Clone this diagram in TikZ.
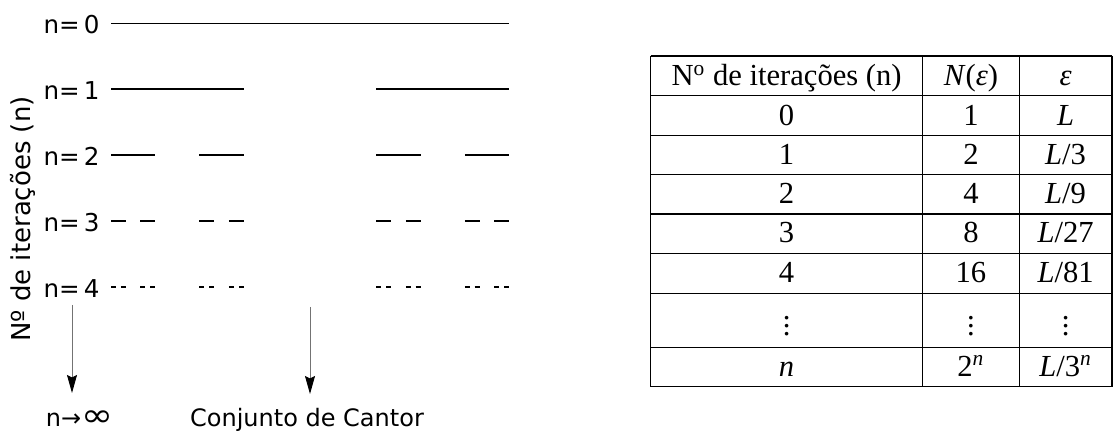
\documentclass[tikz,border=0pt]{standalone}
\usepackage{fontspec}
\usepackage{graphicx}
\setmainfont{Liberation Serif}
\newfontfamily\djv{DejaVu Sans}
\usetikzlibrary{arrows.meta}
\begin{document}
\begin{tikzpicture}[x=0.5pt,y=-0.5pt,
  seg/.style={line width=0.55pt,black},
  lvl/.style={anchor=base east,inner sep=0pt,font=\djv\fontsize{12.3}{14}\selectfont},
  lab/.style={anchor=base,inner sep=0pt,font=\djv\fontsize{12}{14}\selectfont},
  arr/.style={line width=0.5pt,draw=black!55,-{Stealth[length=9pt,width=5pt,inset=1.2pt,color=black,fill=black]}},
  grid/.style={line width=0.55pt,black},
  cell/.style={anchor=base,inner sep=0pt,font=\fontsize{15.3}{18}\selectfont}]
\useasboundingbox (0,0) rectangle (1113,432);
% level labels
\node[lvl] (n0) at (100,33.3) {n=\,0};
\node[lvl] (n1) at (100,100) {n=\,1};
\node[lvl] (n2) at (100,165.5) {n=\,2};
\node[lvl] (n3) at (100,231.5) {n=\,3};
\node[lvl] (n4) at (100,297.5) {n=\,4};
% axis label
\node[inner sep=0pt,rotate=90,font=\djv\fontsize{13}{15}\selectfont] (axis) at (23,219) {Nº de iterações (n)};
% Cantor segments
\def\L{398}
\draw[seg] (111,23.3) -- (509,23.3);
\foreach \a in {0,2}{\draw[seg] ({111+\L*(\a/3)},89) -- ({111+\L*((\a+1)/3)},89);}
\foreach \a in {0,2,6,8}{\draw[seg] ({111+\L*(\a/9)},155) -- ({111+\L*((\a+1)/9)},155);}
\foreach \a in {0,2,6,8,18,20,24,26}{\draw[seg] ({111+\L*(\a/27)},221) -- ({111+\L*((\a+1)/27)},221);}
\foreach \a in {0,2,6,8,18,20,24,26,54,56,60,62,72,74,78,80}{\draw[seg] ({111+\L*(\a/81)},287) -- ({111+\L*((\a+1)/81)},287);}
% bottom labels and arrows
\node[lab] (inf) at (79.5,427) {n→\scalebox{1.6}[1.35]{∞}};
\node[lab] (cantor) at (307,427) {Conjunto de Cantor};
\coordinate (a1) at (72,305);
\coordinate (b1) at (72,393);
\coordinate (a2) at (310,307);
\coordinate (b2) at (310,394);
\draw[arr] (a1) -- (b1);
\draw[arr] (a2) -- (b2);
% table grid
\foreach \y in {56,95.7,135.7,174.7,214,253.3,293.3,347.7,386.7}{\draw[grid] (650.7,\y) -- (1112,\y);}
\foreach \x in {650.7,922.5,1019.3,1112}{\draw[grid] (\x,56) -- (\x,386.7);}
% table text
\def\ca{786.6}\def\cb{970.9}\def\cc{1065.6}
\node[cell] (h1) at (\ca,85.5) {N\textsuperscript{o} de iterações (n)};
\node[cell] (h2) at (\cb,85.5) {\textit{N}(\textit{ε})};
\node[cell] (h3) at (\cc,85.5) {\textit{ε}};
\node[cell] (r01) at (\ca,125.2) {0};
\node[cell] (r02) at (\cb,125.2) {1};
\node[cell] (r03) at (\cc,125.2) {\textit{L}};
\node[cell] (r11) at (\ca,164.2) {1};
\node[cell] (r12) at (\cb,164.2) {2};
\node[cell] (r13) at (\cc,164.2) {\textit{L}/3};
\node[cell] (r21) at (\ca,203.5) {2};
\node[cell] (r22) at (\cb,203.5) {4};
\node[cell] (r23) at (\cc,203.5) {\textit{L}/9};
\node[cell] (r31) at (\ca,242.8) {3};
\node[cell] (r32) at (\cb,242.8) {8};
\node[cell] (r33) at (\cc,242.8) {\textit{L}/27};
\node[cell] (r41) at (\ca,282.8) {4};
\node[cell] (r42) at (\cb,282.8) {16};
\node[cell] (r43) at (\cc,282.8) {\textit{L}/81};
\node[cell,anchor=center] (r51) at (\ca,320.5) {$\vdots$};
\node[cell,anchor=center] (r52) at (\cb,320.5) {$\vdots$};
\node[cell,anchor=center] (r53) at (\cc,320.5) {$\vdots$};
\node[cell] (r61) at (\ca,376.2) {\textit{n}};
\node[cell] (r62) at (\cb,376.2) {2\textsuperscript{\textit{n}}};
\node[cell] (r63) at (\cc,376.2) {\textit{L}/3\textsuperscript{\textit{n}}};
\end{tikzpicture}
\end{document}
